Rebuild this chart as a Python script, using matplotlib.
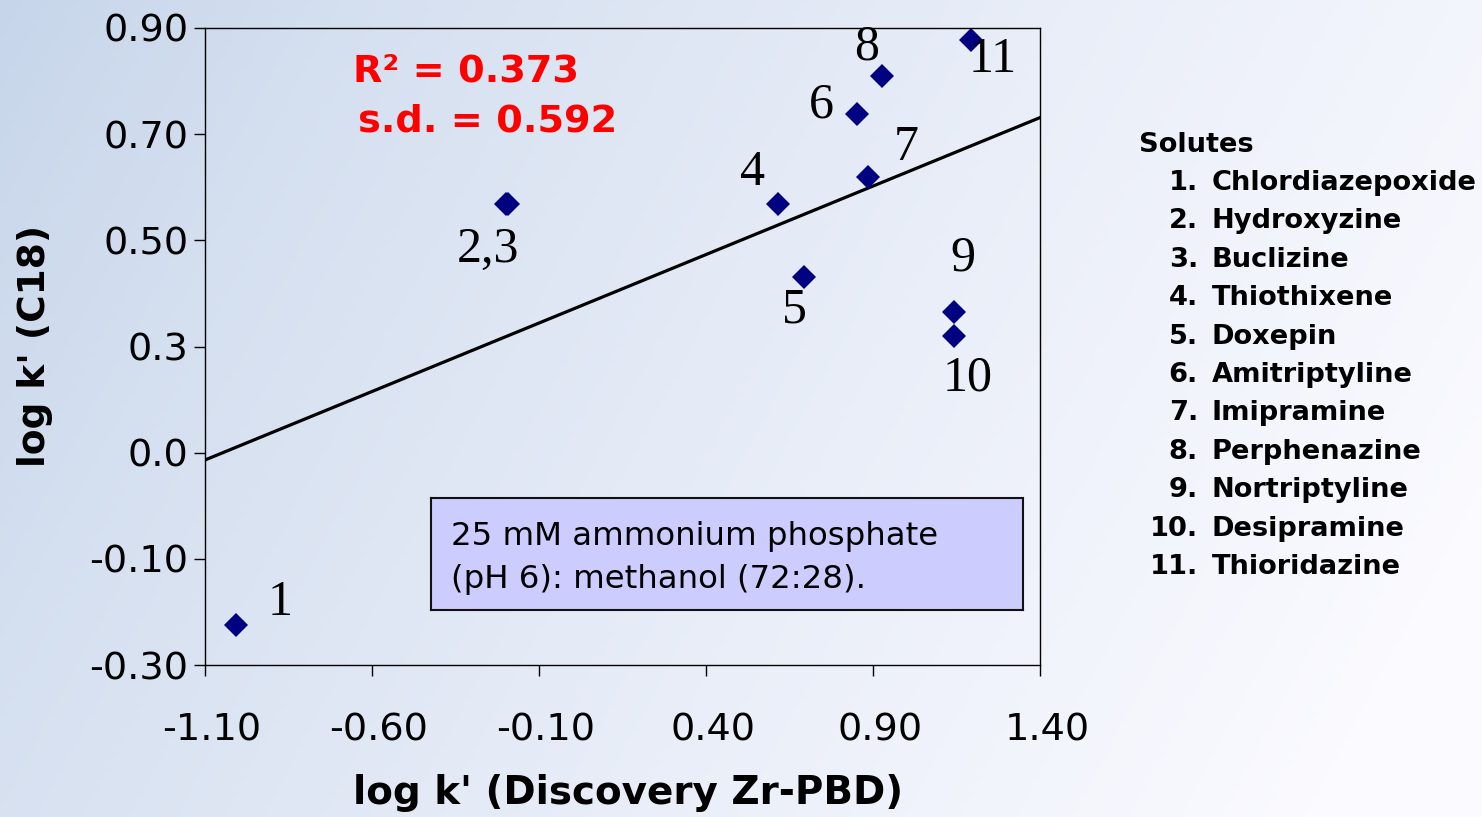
import numpy as np
import matplotlib
matplotlib.use("Agg")
import matplotlib.pyplot as plt
import matplotlib.transforms as mtransforms

# ---- data ----
x_zr = [-1.007, -0.200, -0.192, 0.616, 0.693, 0.852, 0.885, 0.927, 1.143, 1.143, 1.193]
y_c18 = [-0.225, 0.569, 0.569, 0.569, 0.431, 0.738, 0.619, 0.810, 0.365, 0.320, 0.877]
point_labels = ["1", "2,3", None, "4", "5", "6", "7", "8", "9", "10", "11"]
fit_slope = 0.258
fit_intercept = 0.370
x_ticks = [-1.10, -0.60, -0.10, 0.40, 0.90, 1.40]
x_ticklabels = ["-1.10", "-0.60", "-0.10", "0.40", "0.90", "1.40"]
y_ticks = [-0.30, -0.10, 0.10, 0.30, 0.50, 0.70, 0.90]
y_ticklabels = ["-0.30", "-0.10", "0.0", "0.3", "0.50", "0.70", "0.90"]
solutes = ["Chlordiazepoxide", "Hydroxyzine", "Buclizine", "Thiothixene", "Doxepin",
           "Amitriptyline", "Imipramine", "Perphenazine", "Nortriptyline",
           "Desipramine", "Thioridazine"]
stats_text = ["R\u00b2 = 0.373", "s.d. = 0.592"]
condition_text = "25 mM ammonium phosphate\n(pH 6): methanol (72:28)."

# label offsets in pixels (dx right, dy up)
label_offsets = [(44, 22), (-18, -46), None, (-26, 31), (-9, -33), (-36, 9),
                 (38, 29), (-15, 29), (9, 54), (13, -42), (22, -20)]

SANS = "DejaVu Sans"
W, H = 1482, 817
fig = plt.figure(figsize=(W / 100, H / 100), dpi=100)

# background gradient
bg = fig.add_axes([0, 0, 1, 1], zorder=-10)
xx, yy = np.meshgrid(np.linspace(0, 1, 300), np.linspace(0, 1, 200))
t = np.clip(0.85 * xx + 0.25 * yy, 0, 1) ** 0.8
left = np.array([198, 213, 234]) / 255
right = np.array([250, 250, 255]) / 255
img = left[None, None, :] * (1 - t[..., None]) + right[None, None, :] * t[..., None]
bg.imshow(img, aspect="auto", extent=[0, 1, 0, 1], origin="upper")
bg.axis("off")

ax = fig.add_axes([205 / W, 1 - 665 / H, (1040 - 205) / W, (665 - 28) / H])
ax.set_facecolor("none")
ax.set_xlim(-1.10, 1.40)
ax.set_ylim(-0.30, 0.90)

xs = np.array(ax.get_xlim())
ax.plot(xs, fit_intercept + fit_slope * xs, color="black", lw=2.3, zorder=2)
ax.plot(x_zr, y_c18, linestyle="none", marker="D", markersize=12.5,
        color="#000080", markeredgewidth=0, zorder=3)

for xv, yv, lab, off in zip(x_zr, y_c18, point_labels, label_offsets):
    if lab is None:
        continue
    ax.annotate(lab, (xv, yv), xytext=off, textcoords="offset pixels",
                ha="center", va="center", fontsize=36, family="Liberation Serif",
                color="black", zorder=4)

ax.set_xticks(x_ticks)
ax.set_xticklabels(x_ticklabels)
ax.set_yticks(y_ticks)
ax.set_yticklabels(y_ticklabels)
ax.tick_params(axis="both", direction="out", length=8, width=1, labelsize=27.5)
ax.tick_params(axis="x", pad=26)
ax.tick_params(axis="y", pad=4)
for lab in ax.get_xticklabels() + ax.get_yticklabels():
    lab.set_family(SANS)
shift = mtransforms.ScaledTranslation(7 / 100, 0, fig.dpi_scale_trans)
for lab in ax.get_xticklabels():
    lab.set_transform(lab.get_transform() + shift)
for sp in ax.spines.values():
    sp.set_linewidth(1.0)
    sp.set_color("black")

# stats
fig.text(466 / W, 1 - 71 / H, stats_text[0], ha="center", va="center",
         fontsize=27.5, fontweight="bold", color="#ff0000", family=SANS)
fig.text(488 / W, 1 - 122 / H, stats_text[1], ha="center", va="center",
         fontsize=27.5, fontweight="bold", color="#ff0000", family=SANS)

# condition box
box_ax = fig.add_axes([431 / W, 1 - 610 / H, (1023 - 431) / W, (610 - 498) / H])
box_ax.set_xticks([]); box_ax.set_yticks([])
box_ax.set_facecolor("#ccccff")
for sp in box_ax.spines.values():
    sp.set_linewidth(1.5)
    sp.set_color("#111111")
box_ax.text(20 / (1023 - 431), 0.5 - 4 / 112, condition_text, transform=box_ax.transAxes,
            ha="left", va="center", fontsize=23.3, family=SANS,
            linespacing=1.5)

# axis labels
fig.text(628 / W, 1 - 793 / H, "log k' (Discovery Zr-PBD)", ha="center", va="center",
         fontsize=28, fontweight="bold", family=SANS)
fig.text(35 / W, 1 - 346 / H, "log k' (C18)", ha="center", va="center", rotation=90,
         fontsize=27, fontweight="bold", family=SANS)

# solutes list
fig.text(1139 / W, 1 - 145 / H, "Solutes", ha="left", va="center",
         fontsize=19.6, fontweight="bold", family=SANS)
for i, name in enumerate(solutes):
    yv = 1 - (183 + i * 38.4) / H
    fig.text(1198 / W, yv, f"{i + 1}.", ha="right", va="center",
             fontsize=19.6, fontweight="bold", family=SANS)
    fig.text(1212 / W, yv, name, ha="left", va="center",
             fontsize=19.6, fontweight="bold", family=SANS)

fig.savefig("out.png", dpi=100)
